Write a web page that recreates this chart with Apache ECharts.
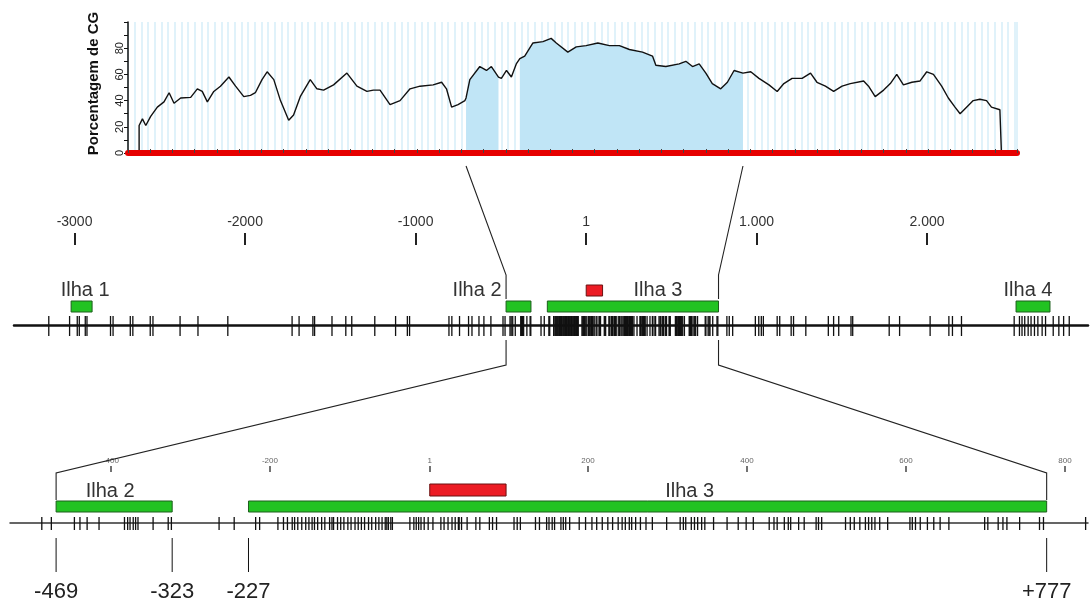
<!DOCTYPE html>
<html>
<head>
<meta charset="utf-8">
<script src="https://cdn.jsdelivr.net/npm/echarts@6/dist/echarts.min.js"></script>
<style>
html, body { margin: 0; padding: 0; background: #fff; }
#chart { width: 1090px; height: 603px; }
</style>
</head>
<body>
<div id="chart"></div>
<script>
// CG percentage profile, position in bp relative to +1
const cgPos = [-1940, -1940, -1925, -1910, -1888, -1858, -1828, -1805, -1783, -1753, -1708, -1678, -1656, -1633, -1604,
	-1574, -1536, -1506, -1469, -1439, -1417, -1387, -1364, -1334, -1304, -1267, -1245, -1215, -1170, -1140,
	-1110, -1065, -1005, -960, -915, -886, -856, -811, -766, -721, -676, -617, -579, -557, -534,
	-505, -474, -469, -452, -407, -377, -355, -323, -310, -287, -265, -243, -227, -205, -168,
	-123, -86, -63, -11, 27, 71, 124, 176, 221, 266, 325, 370, 385, 430, 490,
	520, 550, 580, 610, 639, 677, 707, 737, 777, 812, 849, 894, 931, 961, 998,
	1043, 1081, 1110, 1148, 1185, 1223, 1260, 1320, 1342, 1372, 1410, 1440, 1469, 1499, 1537,
	1574, 1604, 1634, 1671, 1701, 1731, 1754, 1783, 1813, 1843, 1873, 1895, 1933, 1940, 1940];
const cgVal = [0, 21, 26, 21, 28, 35, 39, 46, 38, 42, 42.5, 49, 47, 39, 47,
	51, 58, 51, 43, 44, 46, 56, 62, 56, 40, 25, 29, 43, 56, 49,
	48, 52, 61, 51, 47, 48, 48, 37, 40, 49, 51, 52, 54, 49, 35,
	37, 40, 42, 56, 66, 63, 66, 58, 57, 63, 58, 68, 72, 74, 84,
	85, 87.5, 84, 77, 81, 82, 84, 82, 82, 79, 77, 74, 67, 66, 68,
	70, 66, 68, 61, 53, 49, 54, 63, 61, 62, 57, 52, 47, 53, 57,
	57, 61, 54, 51, 47, 51, 53, 55, 51, 43, 48, 53, 60, 52, 54,
	55, 62, 60, 51, 42, 35, 30, 35, 40, 41, 40, 35, 33, 33, 0];

// CpG islands and first exon
const ilhaNames = ["Ilha 1", "Ilha 2", "Ilha 3", "Ilha 4"];
const ilhaStart = [-3020, -469, -227, 2522];
const ilhaEnd = [-2897, -323, 777, 2721];
const ilhaLabelFull = [-2938, -639, 422, 2592];
const ilhaLabelZoom = [null, -401, 328, null];
const zoomedIlhas = [1, 2];
const exonStart = [1];
const exonEnd = [97];

// CpG dinucleotide positions
const cpgSites = [-3151, -3029, -2984, -2972, -2937, -2927, -2789, -2774, -2673, -2658, -2556, -2540, -2381, -2276,
	-2101, -1724, -1683, -1602, -1592, -1490, -1409, -1374, -1239, -1117, -1048, -1035, -804, -787, -742, -689,
	-669, -628, -599, -558,
	-487, -475, -446, -439, -430, -415, -383, -379, -376, -372, -369, -366, -347, -328, -324, -264, -245, -218,
	-213, -190, -183, -178, -172, -169, -165, -160, -155, -151, -147, -144, -140, -135, -131, -125, -122, -120,
	-115, -111, -107, -102, -98, -93, -89, -85, -81, -76, -72, -67, -63, -59, -55, -53, -51, -48, -46, -24,
	-19, -16, -13, -10, -6, -1, 5, 15, 19, 24, 29, 33, 37, 38, 41, 48, 59, 64, 76, 80, 85, 107, 111, 115, 134,
	139, 148, 151, 155, 158, 166, 169, 172, 177, 189, 197, 205, 211, 218, 225, 231, 238, 243, 247, 252, 255,
	260, 266, 273, 281, 299, 316, 320, 323, 330, 334, 338, 343, 347, 358, 375, 389, 399, 408, 428, 434, 438,
	447, 452, 455, 465, 472, 487, 490, 494, 524, 530, 535, 542, 549, 553, 557, 561, 567, 577, 605, 608, 612,
	618, 627, 635, 643, 654, 699, 703, 716, 722, 727, 743, 768, 773, 826,
	840, 860, 993, 1013, 1028, 1040, 1121, 1136, 1203, 1217, 1289, 1421, 1452, 1482, 1554, 1564, 1778, 1839,
	2018, 2128, 2149, 2202, 2511, 2542, 2557, 2573, 2593, 2610, 2630, 2650, 2675, 2695, 2740, 2773, 2801, 2834];

// scale ticks
const fullTicks = [-3000, -2000, -1000, 1, 1000, 2000];
const zoomTicks = [-400, -200, 1, 200, 400, 600, 800];
const cgRange = [-1990, 2010];
const fullRange = [-3355, 2944];
const zoomRange = [-527, 829];

const FONT = '"Liberation Sans", Arial, sans-serif';
const chart = echarts.init(document.getElementById("chart"));

const inRange = (r) => (p) => p >= r[0] && p <= r[1];
const base = (params) => params.coordSys.y + params.coordSys.height;
const xOf = (api, v) => api.coord([v, 0])[0];

function tickSeries(axis, range, top, bottom, width) {
	return {
		type: "custom", xAxisIndex: axis, yAxisIndex: axis / 2, clip: false, silent: true,
		data: cpgSites.filter(inRange(range)).map((p) => [p]),
		renderItem: (params, api) => {
			const x = xOf(api, api.value(0));
			const b = base(params);
			return {
				type: "line",
				shape: { x1: x, y1: b + top, x2: x, y2: b + bottom },
				style: { stroke: "#111", lineWidth: width },
			};
		},
	};
}

function boxSeries(axis, items, top, bottom, fill, stroke, labelDy, fontSize) {
	return {
		type: "custom", xAxisIndex: axis, yAxisIndex: axis / 2, clip: false, silent: true,
		data: items,
		renderItem: (params, api) => {
			const b = base(params);
			const x1 = xOf(api, api.value(0));
			const x2 = xOf(api, api.value(1));
			const children = [{
				type: "rect",
				shape: { x: x1, y: b + top, width: x2 - x1, height: bottom - top },
				style: { fill: fill, stroke: stroke, lineWidth: 1 },
			}];
			const it = items[params.dataIndex];
			if (it.name) {
				children.push({
					type: "text",
					x: xOf(api, api.value(2)),
					y: b + labelDy,
					style: {
						text: it.name, fill: "#333", fontSize: fontSize, fontFamily: FONT,
						align: "center", verticalAlign: "middle",
					},
				});
			}
			return { type: "group", children: children };
		},
	};
}

const fullIlhas = ilhaNames.map((n, i) => ({ name: n, value: [ilhaStart[i], ilhaEnd[i], ilhaLabelFull[i]] }));
const zoomIlhas = zoomedIlhas.map((i) => ({ name: ilhaNames[i], value: [ilhaStart[i], ilhaEnd[i], ilhaLabelZoom[i]] }));
const exons = exonStart.map((s, i) => ({ value: [s, exonEnd[i], 0] }));
const landmarks = [];
zoomedIlhas.forEach((i) => { landmarks.push([ilhaStart[i]], [ilhaEnd[i]]); });

const cgData = cgPos.map((p, i) => [p, cgVal[i]]);
const areaSeries = zoomedIlhas.map((i) => ({
	type: "line", xAxisIndex: 0, yAxisIndex: 0, symbol: "none", silent: true, z: 1,
	lineStyle: { width: 0 },
	areaStyle: { color: "#c0e5f6", opacity: 1 },
	data: cgData.filter((d) => d[0] >= ilhaStart[i] && d[0] <= ilhaEnd[i]),
}));

const hidden = { axisLine: { show: false }, axisTick: { show: false }, axisLabel: { show: false }, splitLine: { show: false } };

chart.setOption({
	animation: false,
	backgroundColor: "#fff",
	grid: [
		{ left: 128, top: 22, width: 889, height: 131 },
		{ left: 14, top: 283, width: 1074, height: 42 },
		{ left: 10, top: 480, width: 1078, height: 43 },
	],
	xAxis: [
		{
			gridIndex: 0, type: "value", min: cgRange[0], max: cgRange[1], interval: 100, position: "bottom", z: 10,
			axisLine: { onZero: false, lineStyle: { color: "#e60000", width: 6 } },
			axisTick: { inside: true, length: 4, lineStyle: { color: "#444", width: 1 } },
			axisLabel: { show: false }, splitLine: { show: false },
		},
		{
			gridIndex: 0, type: "value", min: cgRange[0], max: cgRange[1], interval: 30, position: "top",
			axisLine: { show: false, onZero: false }, axisTick: { show: false }, axisLabel: { show: false },
			splitLine: { show: true, lineStyle: { color: "#d6eef9", width: 1.5 } },
		},
		{
			gridIndex: 1, type: "value", min: fullRange[0], max: fullRange[1], position: "bottom",
			axisLine: { onZero: false, lineStyle: { color: "#111", width: 2.5 } },
			axisTick: { show: false }, axisLabel: { show: false }, splitLine: { show: false },
		},
		{
			gridIndex: 1, type: "value", min: fullRange[0], max: fullRange[1], position: "top", offset: 38,
			axisLine: { show: false, onZero: false },
			axisTick: { show: true, customValues: fullTicks, length: 12, lineStyle: { color: "#222", width: 2 } },
			axisLabel: {
				show: true, customValues: fullTicks, margin: 16, color: "#333", fontSize: 14, fontFamily: FONT,
				formatter: (v) => (v >= 1000 ? v / 1000 + ".000" : String(v)),
			},
			splitLine: { show: false },
		},
		{
			gridIndex: 2, type: "value", min: zoomRange[0], max: zoomRange[1], position: "bottom",
			axisLine: { onZero: false, lineStyle: { color: "#333", width: 1.5 } },
			axisTick: { show: false }, axisLabel: { show: false }, splitLine: { show: false },
		},
		{
			gridIndex: 2, type: "value", min: zoomRange[0], max: zoomRange[1], position: "top", offset: 8,
			axisLine: { show: false, onZero: false },
			axisTick: { show: true, customValues: zoomTicks, length: 6, lineStyle: { color: "#444", width: 1.5 } },
			axisLabel: {
				show: true, customValues: zoomTicks, margin: 7, color: "#666", fontSize: 8, fontFamily: FONT,
			},
			splitLine: { show: false },
		},
	],
	yAxis: [
		{
			gridIndex: 0, type: "value", min: 0, max: 100, interval: 10, position: "left", z: 5,
			name: "Porcentagem de CG", nameLocation: "middle", nameGap: 27, nameRotate: 90,
			nameTextStyle: { fontWeight: "bold", fontSize: 15, fontFamily: FONT, color: "#111", padding: [0, 0, 0, 8] },
			axisLine: { show: true, onZero: false, lineStyle: { color: "#111", width: 1.5 } },
			axisTick: { show: true, length: 4, lineStyle: { color: "#111" } },
			axisLabel: {
				rotate: 90, margin: 3, fontSize: 11, fontFamily: FONT, color: "#222",
				formatter: (v) => (v % 20 === 0 && v < 100 ? String(v) : ""),
			},
			splitLine: { show: false },
		},
		Object.assign({ gridIndex: 1, type: "value", min: 0, max: 1 }, hidden),
		Object.assign({ gridIndex: 2, type: "value", min: 0, max: 1 }, hidden),
	],
	series: [
		...areaSeries,
		{
			type: "line", xAxisIndex: 0, yAxisIndex: 0, symbol: "none", silent: true, z: 3,
			lineStyle: { color: "#111", width: 1.4 },
			data: cgData,
		},
		// full map
		tickSeries(2, fullRange, -9, 11, 1.3),
		boxSeries(2, fullIlhas, -24, -13, "#22c322", "#1d5e1d", -35, 20),
		boxSeries(2, exons, -40, -29, "#ec1c24", "#6b1111", 0, 0),
		// zoomed map
		tickSeries(4, zoomRange, -6, 7, 1.3),
		boxSeries(4, zoomIlhas, -22, -11, "#22c322", "#1d5e1d", -32, 20),
		boxSeries(4, exons, -39, -27, "#ec1c24", "#6b1111", 0, 0),
		{
			type: "custom", xAxisIndex: 4, yAxisIndex: 2, clip: false, silent: true,
			data: landmarks,
			renderItem: (params, api) => {
				const v = api.value(0);
				const x = xOf(api, v);
				const b = base(params);
				return {
					type: "group",
					children: [
						{ type: "line", shape: { x1: x, y1: b + 15, x2: x, y2: b + 49 }, style: { stroke: "#111", lineWidth: 1 } },
						{
							type: "text", x: x, y: b + 69,
							style: {
								text: (v > 0 ? "+" : "") + v, fill: "#222", fontSize: 22, fontFamily: FONT,
								align: "center", verticalAlign: "middle",
							},
						},
					],
				};
			},
		},
	],
});

// zoom connectors between the three panels
const px = (axis, v) => chart.convertToPixel({ xAxisIndex: axis }, v);
const connectors = [];
zoomedIlhas.forEach((i, k) => {
	const v = k === 0 ? ilhaStart[i] : ilhaEnd[i];
	const xm = px(2, v);
	connectors.push([[px(0, v), 166], [xm, 275], [xm, 299]]);
	connectors.push([[xm, 340], [xm, 365], [px(4, v), 473], [px(4, v), 500]]);
});
chart.setOption({
	graphic: connectors.map((pts) => ({
		type: "polyline", silent: true, z: 20,
		shape: { points: pts },
		style: { stroke: "#222", lineWidth: 1.1, fill: null },
	})),
});
</script>
</body>
</html>
